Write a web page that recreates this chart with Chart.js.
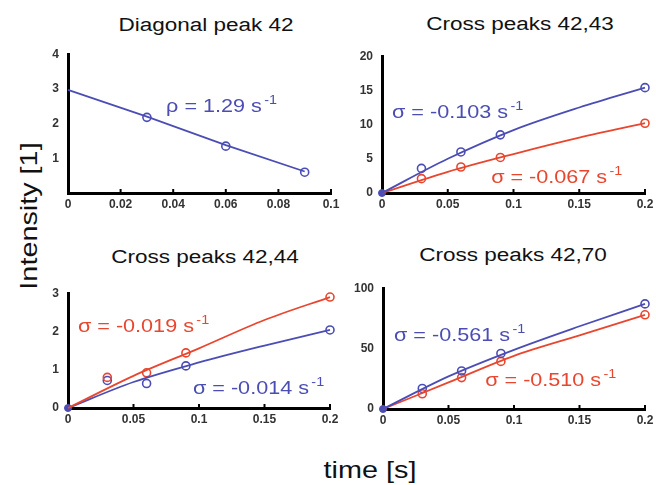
<!doctype html>
<html lang="en">
  <head>
    <title>Cross relaxation build-up</title>
    <script src="https://cdn.jsdelivr.net/npm/chart.js"></script>
    <style>
      body { margin: 0; background: #fff; }
      #wrap { position: relative; width: 656px; height: 485px; overflow: hidden; }
      canvas { position: absolute; }
      .lbl {
        position: absolute;
        font-family: Arial, "Liberation Sans", sans-serif;
        color: #111;
        white-space: nowrap;
      }
      .title { font-size: 18px; line-height: 18px; transform: translateX(-50%) scaleX(1.25); }
    </style>
  </head>
  <body>
    <div id="wrap">
      <div class="lbl title" style="left:206px; top:16px">Diagonal peak 42</div>
      <div class="lbl title" style="left:520px; top:15px">Cross peaks 42,43</div>
      <div class="lbl title" style="left:205px; top:248px">Cross peaks 42,44</div>
      <div class="lbl title" style="left:513px; top:246px">Cross peaks 42,70</div>
      <div class="lbl" style="left:29px; top:216px; font-size:24px; line-height:24px; transform: translate(-50%,-50%) rotate(-90deg) scaleX(1.2)">Intensity [1]</div>
      <div class="lbl" style="left:370px; top:458px; font-size:24px; line-height:24px; transform: translateX(-50%) scaleX(1.2)">time [s]</div>
      <canvas id="c1"></canvas>
      <canvas id="c2"></canvas>
      <canvas id="c3"></canvas>
      <canvas id="c4"></canvas>
    </div>

    <script>
      const BLUE = '#4b4db5';
      const RED = '#e8462f';
      const FONT = 'Arial, "Liberation Sans", sans-serif';

      // diagonal peak 42
      const diagX = [0.03, 0.06, 0.09];
      const diagY = [2.18, 1.35, 0.6];
      const diagFitX = [0, 0.03, 0.06, 0.09];
      const diagFitY = [2.97, 2.2, 1.38, 0.62];

      // cross peaks, measured times and fit curve sample times
      const crossX = [0.03, 0.06, 0.09, 0.2];
      const fitX = [0, 0.05, 0.1, 0.15, 0.2];

      const c43Blue = [3.6, 6.0, 8.5, 15.4];
      const c43Red = [2.1, 3.8, 5.2, 10.2];
      const c43BlueFit = [0, 5.0, 9.2, 12.5, 15.4];
      const c43RedFit = [0, 3.1, 5.7, 8.1, 10.2];

      const c44Blue = [0.72, 0.64, 1.1, 2.04];
      const c44Red = [0.8, 0.92, 1.44, 2.9];
      const c44BlueFit = [0, 0.68, 1.19, 1.63, 2.04];
      const c44RedFit = [0, 0.84, 1.56, 2.3, 2.9];

      const c70Blue = [17, 31.5, 46, 87];
      const c70Red = [12.6, 26, 39.4, 78];
      const c70BlueFit = [0, 27, 49, 68.5, 87];
      const c70RedFit = [0, 22, 44, 61, 78];

      // tick values
      const xTicksDiag = [0, 0.02, 0.04, 0.06, 0.08, 0.1];
      const xTicksCross = [0, 0.05, 0.1, 0.15, 0.2];
      const yTicks1 = [1, 2, 3, 4];
      const yTicks2 = [0, 5, 10, 15, 20];
      const yTicks3 = [0, 1, 2, 3];
      const yTicks4 = [0, 50, 100];

      const pts = (xs, ys) => xs.map((x, i) => ({ x: x, y: ys[i] }));

      function fitSet(xs, ys, color, smooth) {
        return {
          data: pts(xs, ys), showLine: true, borderColor: color, borderWidth: 1.8,
          pointRadius: 0, tension: 0, cubicInterpolationMode: smooth ? 'monotone' : 'default',
          clip: false
        };
      }
      function markSet(xs, ys, color) {
        return {
          data: pts(xs, ys), showLine: false, borderColor: color, backgroundColor: 'rgba(0,0,0,0)',
          pointRadius: 4, pointBorderWidth: 1.6, pointStyle: 'circle', clip: false
        };
      }
      function originSet() {
        return {
          data: [{ x: 0, y: 0 }], showLine: false, borderColor: BLUE, backgroundColor: BLUE,
          pointRadius: 3.5, pointBorderWidth: 1, clip: false
        };
      }

      // text labels with superscript, drawn at data coordinates
      const notesPlugin = {
        id: 'notes',
        afterDatasetsDraw(chart, args, opts) {
          const ctx = chart.ctx;
          (opts.items || []).forEach(n => {
            const px = chart.scales.x.getPixelForValue(n.x);
            const py = chart.scales.y.getPixelForValue(n.y);
            ctx.save();
            ctx.translate(px, py);
            ctx.scale(1.2, 1);
            ctx.fillStyle = n.color;
            ctx.textBaseline = 'alphabetic';
            ctx.font = '18px ' + FONT;
            ctx.fillText(n.text, 0, 0);
            const w = ctx.measureText(n.text).width;
            ctx.font = '12px ' + FONT;
            ctx.fillText('-1', w + 2, -8);
            ctx.restore();
          });
        }
      };

      // small inward tick marks on the time axis
      const inTicksPlugin = {
        id: 'inTicks',
        afterDraw(chart) {
          const ctx = chart.ctx;
          const xs = chart.scales.x;
          const y0 = chart.chartArea.bottom;
          ctx.save();
          ctx.strokeStyle = '#000';
          ctx.lineWidth = 2;
          xs.ticks.forEach(t => {
            if (t.value === 0) return;
            const px = xs.getPixelForValue(t.value);
            ctx.beginPath();
            ctx.moveTo(px, y0);
            ctx.lineTo(px, y0 - 4);
            ctx.stroke();
          });
          ctx.restore();
        }
      };

      function makeChart(id, area, datasets, xr, yr, notes) {
        const cv = document.getElementById(id);
        cv.width = area.r - area.l + 57;
        cv.height = area.b - area.t + 35;
        cv.style.left = (area.l - 40) + 'px';
        cv.style.top = (area.t - 10) + 'px';
        const tickFont = { family: FONT, size: 12, weight: 'bold' };
        return new Chart(cv, {
          type: 'scatter',
          data: { datasets: datasets },
          options: {
            responsive: false,
            animation: false,
            layout: { padding: { top: 10, right: 17, left: 0, bottom: 0 } },
            plugins: { legend: { display: false }, tooltip: { enabled: false }, notes: { items: notes } },
            scales: {
              x: {
                type: 'linear', min: xr.min, max: xr.max,
                grid: { display: false, drawTicks: false },
                border: { display: true, color: '#000', width: 3 },
                ticks: { font: tickFont, color: '#333', padding: 4, autoSkip: false, maxRotation: 0,
                  callback: v => String(Number(v.toFixed(3))) },
                afterBuildTicks: s => { s.ticks = xr.ticks.map(v => ({ value: v })); },
                afterFit: s => { s.height = 25; }
              },
              y: {
                type: 'linear', min: yr.min, max: yr.max,
                grid: { display: false, drawTicks: false },
                border: { display: true, color: '#000', width: 3 },
                ticks: { font: tickFont, color: '#333', padding: 9, autoSkip: false,
                  callback: v => String(v) },
                afterBuildTicks: s => { s.ticks = yr.ticks.map(v => ({ value: v })); },
                afterFit: s => { s.width = 40; }
              }
            }
          },
          plugins: [notesPlugin, inTicksPlugin]
        });
      }

      makeChart('c1', { l: 68, r: 331, t: 48, b: 193 },
        [fitSet(diagFitX, diagFitY, BLUE, false), markSet(diagX, diagY, BLUE)],
        { min: 0, max: 0.1, ticks: xTicksDiag }, { min: 0, max: 4, ticks: yTicks1 },
        [{ x: 0.0373, y: 2.34, text: 'ρ = 1.29 s', color: BLUE }]);

      makeChart('c2', { l: 382, r: 645, t: 50, b: 193 },
        [fitSet(fitX, c43BlueFit, BLUE, true), fitSet(fitX, c43RedFit, RED, true),
         markSet(crossX, c43Blue, BLUE), markSet(crossX, c43Red, RED), originSet()],
        { min: 0, max: 0.2, ticks: xTicksCross }, { min: 0, max: 20, ticks: yTicks2 },
        [{ x: 0.0076, y: 10.9, text: 'σ = -0.103 s', color: BLUE },
         { x: 0.083, y: 1.4, text: 'σ = -0.067 s', color: RED }]);

      makeChart('c3', { l: 68, r: 330, t: 287, b: 408 },
        [fitSet(fitX, c44RedFit, RED, true), fitSet(fitX, c44BlueFit, BLUE, true),
         markSet(crossX, c44Red, RED), markSet(crossX, c44Blue, BLUE), originSet()],
        { min: 0, max: 0.2, ticks: xTicksCross }, { min: 0, max: 3, ticks: yTicks3 },
        [{ x: 0.0076, y: 1.98, text: 'σ = -0.019 s', color: RED },
         { x: 0.0954, y: 0.37, text: 'σ = -0.014 s', color: BLUE }]);

      makeChart('c4', { l: 383, r: 645, t: 282, b: 409 },
        [fitSet(fitX, c70BlueFit, BLUE, true), fitSet(fitX, c70RedFit, RED, true),
         markSet(crossX, c70Blue, BLUE), markSet(crossX, c70Red, RED), originSet()],
        { min: 0, max: 0.2, ticks: xTicksCross }, { min: 0, max: 100, ticks: yTicks4 },
        [{ x: 0.0084, y: 56.7, text: 'σ = -0.561 s', color: BLUE },
         { x: 0.078, y: 18.9, text: 'σ = -0.510 s', color: RED }]);
    </script>
  </body>
</html>
